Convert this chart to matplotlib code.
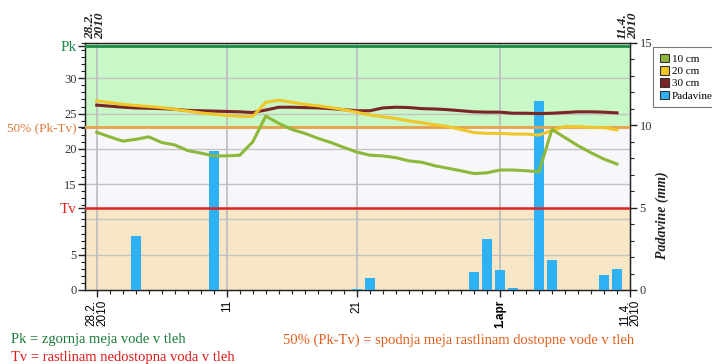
import matplotlib
matplotlib.use("Agg")
import matplotlib.pyplot as plt
import numpy as np
from matplotlib.patches import Patch

# ---- data ----
days = list(range(0, 41))
soil_10cm = [22.35, 21.7, 21.1, 21.35, 21.7, 20.9, 20.55, 19.75, 19.4, 19.0,
             19.0, 19.1, 21.0, 24.65, 23.6, 22.75, 22.2, 21.5, 20.9, 20.2,
             19.55, 19.1, 19.0, 18.75, 18.3, 18.1, 17.6, 17.25, 16.9, 16.5,
             16.6, 17.0, 17.0, 16.9, 16.75, 22.75, 21.6, 20.45, 19.45, 18.55, 17.85]
soil_20cm = [26.8, 26.55, 26.3, 26.15, 26.0, 25.85, 25.6, 25.35, 25.1, 24.9,
             24.75, 24.6, 24.6, 26.6, 26.9, 26.6, 26.3, 26.1, 25.85, 25.55,
             25.2, 24.8, 24.55, 24.3, 23.95, 23.7, 23.4, 23.15, 22.75, 22.3,
             22.2, 22.2, 22.1, 22.1, 21.95, 22.6, 23.15, 23.15, 23.05, 23.0, 22.7]
soil_30cm = [26.2, 26.05, 25.9, 25.8, 25.75, 25.7, 25.6, 25.45, 25.4, 25.35,
             25.3, 25.25, 25.15, 25.5, 25.9, 25.9, 25.85, 25.8, 25.7, 25.55,
             25.4, 25.4, 25.8, 25.9, 25.85, 25.7, 25.65, 25.55, 25.4, 25.25,
             25.2, 25.2, 25.05, 25.05, 25.0, 25.05, 25.15, 25.25, 25.25, 25.2, 25.1]
rain_days = [3, 9, 20, 21, 29, 30, 31, 32, 34, 35, 39, 40]
rain_mm = [3.25, 8.45, 0.04, 0.72, 1.1, 3.12, 1.2, 0.1, 11.5, 1.85, 0.9, 1.28]

PK = 34.6
TV = 11.6
HALF = (PK + TV) / 2

xticks = [0, 10, 20, 31, 41]
xticklabels = ["28.2.\n2010", "11", "21", "1.apr", "11.4.\n2010"]
left_ticks = [0, 5, TV, 15, 20, HALF, 25, 30, PK]
left_labels = ["0", "5", "Tv", "15", "20", "50% (Pk-Tv)", "25", "30", "Pk"]
right_ticks = [0, 5, 10, 15]

# ---- colours ----
c10 = "#8db83a"
c20 = "#f0c628"
c30 = "#7a2626"
cbar = "#2eb2f5"
c_pk = "#1e8a4a"
c_half = "#e8a048"
c_tv = "#e02424"

serif = "Liberation Serif"
sans = "Liberation Sans"

fig = plt.figure(figsize=(7.12, 3.64), dpi=100)
fig.patch.set_facecolor("white")
rect = [85/712, 1-290/364, (630-85)/712, (290-43)/364]
ax = fig.add_axes(rect)
ax.set_xlim(-0.9, 41)
ax.set_ylim(0, 35)

# background bands
ax.axhspan(0, TV, color="#f7e7c6", zorder=0, lw=0)
ax.axhspan(TV, HALF, color="#f6f6fb", zorder=0, lw=0)
ax.axhspan(HALF, 35, color="#c8f7c8", zorder=0, lw=0)

# grid
for yv in [5, 10, 15, 20, 25, 30]:
    ax.axhline(yv, color="#c4c4c4", lw=1.0, zorder=1)
for xv in [0, 10, 20, 31]:
    ax.axvline(xv, color="#bcbcbc", lw=1.2, zorder=1)

ax.set_yticks(left_ticks)
ax.set_yticklabels(left_labels, family=serif, fontsize=9)
ax.set_yticks(np.arange(0, 36, 1), minor=True)
label_cols = ["#333333", "#333333", c_tv, "#333333", "#333333", "#e07838", "#333333", "#333333", c_pk]
for lab, col in zip(ax.get_yticklabels(), label_cols):
    lab.set_color(col)
ax.get_yticklabels()[2].set_fontsize(11)
ax.get_yticklabels()[5].set_fontsize(9.5)
ax.get_yticklabels()[8].set_fontsize(11)
ax.tick_params(axis="y", which="major", length=5, width=1, pad=1, color="#222222")
ax.tick_params(axis="y", which="minor", length=3, width=0.8, color="#222222")

ax.set_xticks(xticks)
ax.set_xticklabels(xticklabels, rotation=90, family=sans, fontsize=8.5, va="top", ha="center", linespacing=0.85)
ax.get_xticklabels()[3].set_fontweight("bold")
ax.set_xticks(np.arange(0, 42, 1), minor=True)
ax.tick_params(axis="x", which="major", length=5, width=1, pad=2, color="#222222")
ax.tick_params(axis="x", which="minor", length=3, width=0.8, color="#222222")
for s in ax.spines.values():
    s.set_color("#222222")
    s.set_linewidth(1.0)

# rain bars
ax2 = ax.twinx()
ax2.set_ylim(0, 15)
ax2.bar(rain_days, rain_mm, width=0.8, color=cbar, zorder=2, lw=0)
ax2.set_yticks(right_ticks)
ax2.set_yticklabels([str(v) for v in right_ticks], family=serif, fontsize=9, color="#333333")
ax2.set_yticks(np.arange(0, 16, 1), minor=True)
ax2.tick_params(axis="y", which="major", length=5, width=1, pad=2, color="#222222")
ax2.tick_params(axis="y", which="minor", length=3, width=0.8, color="#222222")
for s in ax2.spines.values():
    s.set_color("#222222")

# lines on top
ax3 = ax.twinx()
ax3.set_ylim(0, 35)
ax3.set_yticks([])
for s in ax3.spines.values():
    s.set_visible(False)
ax3.axhline(PK, color=c_pk, lw=2.0, zorder=3)
ax3.axhline(HALF, color=c_half, lw=2.0, zorder=3)
ax3.axhline(TV, color=c_tv, lw=1.8, zorder=3)
ax3.plot(days, soil_30cm, color=c30, lw=2.2, zorder=4)
ax3.plot(days, soil_20cm, color=c20, lw=2.2, zorder=5)
ax3.plot(days, soil_10cm, color=c10, lw=2.2, zorder=6)

# right axis label
fig.text(662/712, 1-215/364, "Padavine (mm)", rotation=90, ha="center", va="center",
         family=serif, fontsize=10, fontweight="bold", fontstyle="italic", color="#222222")

# top date labels
for xv, txt in [(95, "28.2.\n2010"), (628, "11.4.\n2010")]:
    fig.text(xv/712, 1-39/364, txt, rotation=90, ha="center", va="bottom",
             family=serif, fontsize=9.5, fontweight="bold", fontstyle="italic",
             color="#222222", linespacing=0.8)

# legend
handles = [Patch(facecolor=c10, edgecolor="#333333", lw=0.8, label="10 cm"),
           Patch(facecolor=c20, edgecolor="#333333", lw=0.8, label="20 cm"),
           Patch(facecolor=c30, edgecolor="#333333", lw=0.8, label="30 cm"),
           Patch(facecolor=cbar, edgecolor="#333333", lw=0.8, label="Padavine")]
leg = fig.legend(handles=handles, loc="upper left", bbox_to_anchor=(653/712, 1-47/364),
                 prop={"family": serif, "size": 8}, frameon=True, fancybox=False,
                 handlelength=0.8, handleheight=0.8, handletextpad=0.3,
                 labelspacing=0.2, borderpad=0.6, borderaxespad=0)
leg.get_frame().set_edgecolor("#555555")
leg.get_frame().set_linewidth(0.8)

# bottom notes
fig.text(11/712, 1-340/364, "Pk = zgornja meja vode v tleh", family=serif, fontsize=10.5,
         color="#1a7a3a", va="center", ha="left")
fig.text(283/712, 1-340/364, "50% (Pk-Tv) = spodnja meja rastlinam dostopne vode v tleh",
         family=serif, fontsize=10.5, color="#e0601e", va="center", ha="left")
fig.text(11/712, 1-357/364, "Tv = rastlinam nedostopna voda v tleh", family=serif, fontsize=10.5,
         color="#e01818", va="center", ha="left")

fig.savefig("out.png", dpi=100)
